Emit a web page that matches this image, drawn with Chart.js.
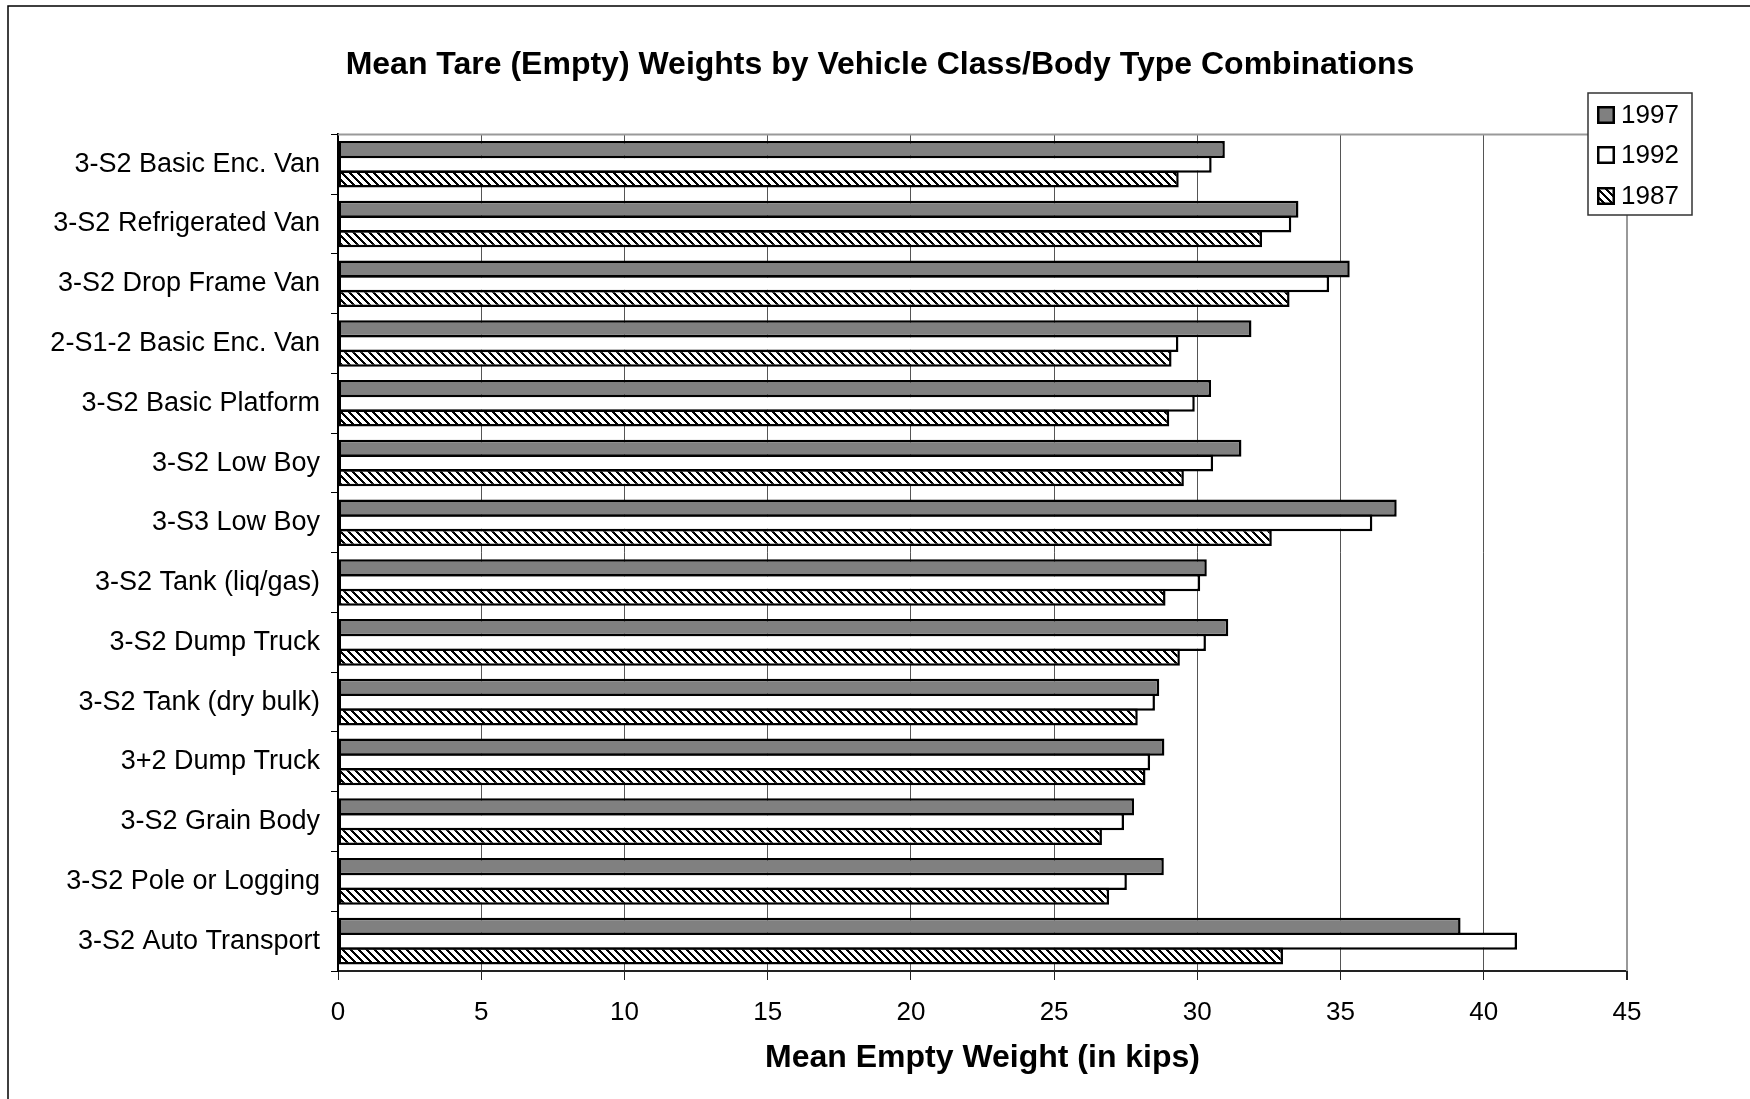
<!DOCTYPE html>
<html>
<head>
<meta charset="utf-8">
<script src="https://cdn.jsdelivr.net/npm/chart.js@4.4.0/dist/chart.umd.min.js"></script>
<style>
  html, body { margin: 0; padding: 0; background: #fff; }
  #wrap { width: 1750px; height: 1099px; }
</style>
</head>
<body>
<div id="wrap"><canvas id="mychart" width="1750" height="1099"></canvas></div>
<script>
const categories = [
  '3-S2 Basic Enc. Van',
  '3-S2 Refrigerated Van',
  '3-S2 Drop Frame Van',
  '2-S1-2 Basic Enc. Van',
  '3-S2 Basic Platform',
  '3-S2 Low Boy',
  '3-S3 Low Boy',
  '3-S2 Tank (liq/gas)',
  '3-S2 Dump Truck',
  '3-S2 Tank (dry bulk)',
  '3+2 Dump Truck',
  '3-S2 Grain Body',
  '3-S2 Pole or Logging',
  '3-S2 Auto Transport'
];
const seriesNames = ['1997', '1992', '1987'];
const w1997 = [30.96, 33.53, 35.32, 31.89, 30.48, 31.54, 36.96, 30.33, 31.08, 28.67, 28.85, 27.79, 28.83, 39.19];
const w1992 = [30.50, 33.28, 34.60, 29.34, 29.91, 30.55, 36.11, 30.10, 30.30, 28.52, 28.35, 27.44, 27.54, 41.16];
const w1987 = [29.35, 32.26, 33.22, 29.10, 29.02, 29.53, 32.60, 28.89, 29.39, 27.92, 28.19, 26.67, 26.92, 32.99];
const xTicks = [0, 5, 10, 15, 20, 25, 30, 35, 40, 45];

const FONT = '"Liberation Sans", Arial, sans-serif';

// diagonal hatch like the old spreadsheet fill
function makeHatch() {
  const c = document.createElement('canvas');
  c.width = 8; c.height = 8;
  const g = c.getContext('2d');
  g.fillStyle = '#fff';
  g.fillRect(0, 0, 8, 8);
  g.fillStyle = '#000';
  for (let y = 0; y < 8; y++) {
    for (let k = 0; k < 3; k++) {
      g.fillRect((y + k) % 8, y, 1, 1);
    }
  }
  return g.createPattern(c, 'repeat');
}
const ctx = document.getElementById('mychart').getContext('2d');
const hatch = makeHatch();

const frame = {
  id: 'frame',
  beforeDraw(chart) {
    const c = chart.ctx;
    c.save();
    c.fillStyle = '#fff';
    c.fillRect(0, 0, chart.width, chart.height);
    c.strokeStyle = '#000';
    c.lineWidth = 1.5;
    c.strokeRect(8, 6, chart.width + 20, chart.height + 20);
    c.restore();
  },
  beforeDatasetsDraw(chart) {
    const a = chart.chartArea;
    const c = chart.ctx;
    c.save();
    c.strokeStyle = '#999';
    c.lineWidth = 2;
    c.beginPath();
    c.moveTo(a.left, a.top);
    c.lineTo(a.right, a.top);
    c.lineTo(a.right, a.bottom);
    c.stroke();
    c.restore();
  },
  afterDraw(chart) {
    const c = chart.ctx;
    c.save();
    const bx = 1588, by = 93, bw = 104, bh = 122;
    c.fillStyle = '#fff';
    c.fillRect(bx, by, bw, bh);
    c.strokeStyle = '#333';
    c.lineWidth = 1.5;
    c.strokeRect(bx, by, bw, bh);
    const rows = [115, 155, 196];
    chart.data.datasets.forEach((ds, i) => {
      const y = rows[i];
      c.fillStyle = '#000';
      c.fillRect(1597, y - 9, 18, 18);
      c.fillStyle = ds.backgroundColor;
      c.fillRect(1599.5, y - 6.5, 13, 13);
      c.fillStyle = '#000';
      c.font = '26px ' + FONT;
      c.textBaseline = 'middle';
      c.textAlign = 'left';
      c.fillText(ds.label, 1621, y + 1);
    });
    c.restore();
  }
};

const series = [w1997, w1992, w1987];
const fills = ['#808080', '#ffffff', hatch];

new Chart(ctx, {
  type: 'bar',
  data: {
    labels: categories,
    datasets: seriesNames.map((name, i) => ({
      label: name,
      data: series[i],
      backgroundColor: fills[i],
      borderColor: '#000',
      borderWidth: 2.5,
      borderSkipped: false,
      categoryPercentage: 0.74,
      barPercentage: 1.16
    }))
  },
  options: {
    indexAxis: 'y',
    responsive: false,
    animation: false,
    layout: { padding: { left: 10, right: 0, top: 0, bottom: 10 } },
    plugins: {
      legend: { display: false },
      tooltip: { enabled: false },
      title: {
        display: true,
        text: 'Mean Tare (Empty) Weights by Vehicle Class/Body Type Combinations',
        color: '#000',
        font: { family: FONT, size: 32, weight: 'bold' },
        padding: { top: 46, bottom: 50 }
      }
    },
    scales: {
      x: {
        min: 0,
        max: 45,
        afterBuildTicks(scale) {
          scale.ticks = xTicks.map(v => ({ value: v }));
        },
        afterFit(scale) { scale.height = 118; },
        grid: {
          color: ctx2 => (ctx2.tick && ctx2.tick.value === 45) ? '#999' : '#555',
          lineWidth: ctx2 => (ctx2.tick && ctx2.tick.value === 45) ? 2 : 1,
          tickColor: '#222',
          tickLength: 9
        },
        border: { color: '#222', width: 2 },
        ticks: {
          color: '#000',
          padding: 17,
          font: { family: FONT, size: 26 }
        },
        title: {
          display: true,
          text: 'Mean Empty Weight (in kips)',
          color: '#000',
          font: { family: FONT, size: 32, weight: 'bold' },
          padding: { top: 14, bottom: 12 }
        }
      },
      y: {
        afterFit(scale) { scale.width = 328; },
        grid: {
          drawOnChartArea: false,
          drawTicks: true,
          tickLength: 7,
          color: '#000',
          tickColor: '#000'
        },
        border: { color: '#000', width: 2 },
        ticks: {
          color: '#000',
          padding: 11,
          font: { family: FONT, size: 27 }
        }
      },
      // empty spacer on the right so the plot stops short of the legend side
      yRight: {
        type: 'category',
        position: 'right',
        grid: { display: false },
        border: { display: false },
        ticks: { display: false },
        afterFit(scale) { scale.width = 123; }
      }
    }
  },
  plugins: [frame]
});
</script>
</body>
</html>
